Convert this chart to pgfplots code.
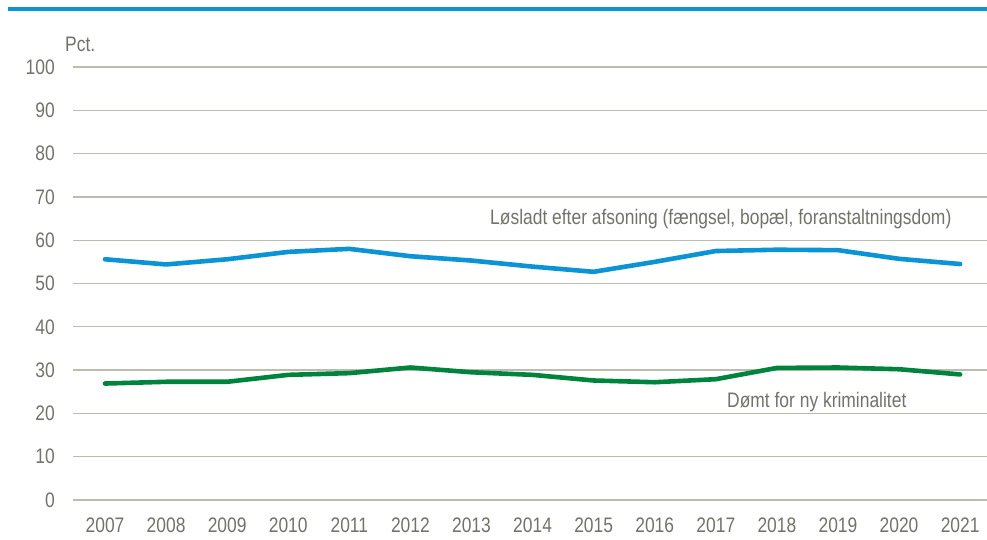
\documentclass[border=0pt]{standalone}
\usepackage{fontspec}
\setmainfont[FakeStretch=0.83]{Liberation Sans}
\usepackage{pgfplots}
\pgfplotsset{compat=1.18}
\definecolor{lblue}{HTML}{0A93D5}
\definecolor{dgreen}{HTML}{00843D}
\definecolor{txt}{HTML}{72726A}
\definecolor{gridc}{HTML}{BDBCB0}
\begin{document}
\begin{tikzpicture}[x=1pt,y=1pt,font=\fontsize{21}{24}\selectfont]
\useasboundingbox (0,0) rectangle (987,539);
\draw[lblue, line width=3.2pt] (7.5,530) -- (987,530);
\begin{axis}[
  at={(73pt,39pt)}, anchor=south west,
  scale only axis, width=914pt, height=433pt,
  xmin=-0.524, xmax=14.44, ymin=0, ymax=100,
  axis line style={draw=none},
  major tick length=0pt,
  ymajorgrids, grid style={gridc, line width=1.3pt},
  xtick={0,...,14},
  xticklabels={2007,2008,2009,2010,2011,2012,2013,2014,2015,2016,2017,2018,2019,2020,2021},
  ytick={0,10,...,100},
  /pgf/number format/assume math mode=true,
  tick label style={text=txt, font=\fontsize{21}{24}\selectfont, inner sep=0pt},
  yticklabel style={anchor=east, xshift=-18pt},
  xticklabel style={anchor=north, yshift=-18pt},
  clip=false,
]
\addplot[lblue, line width=4.6pt, line cap=round, line join=round] coordinates {
(0,55.6) (1,54.4) (2,55.6) (3,57.3) (4,58.0) (5,56.3) (6,55.3) (7,53.9) (8,52.7) (9,55.0) (10,57.5) (11,57.8) (12,57.7) (13,55.7) (14,54.5)};
\addplot[dgreen, line width=4.6pt, line cap=round, line join=round] coordinates {
(0,26.9) (1,27.3) (2,27.3) (3,28.9) (4,29.3) (5,30.6) (6,29.5) (7,28.9) (8,27.6) (9,27.2) (10,27.9) (11,30.5) (12,30.6) (13,30.2) (14,29.0)};
\end{axis}
\node[anchor=base west, inner sep=0pt, text=txt] at (65,487) {Pct.};
\node[anchor=base west, inner sep=0pt, text=txt] at (490,315) {Løsladt efter afsoning (fængsel, bopæl, foranstaltningsdom)};
\node[anchor=base west, inner sep=0pt, text=txt] at (727,132) {Dømt for ny kriminalitet};
\end{tikzpicture}
\end{document}
